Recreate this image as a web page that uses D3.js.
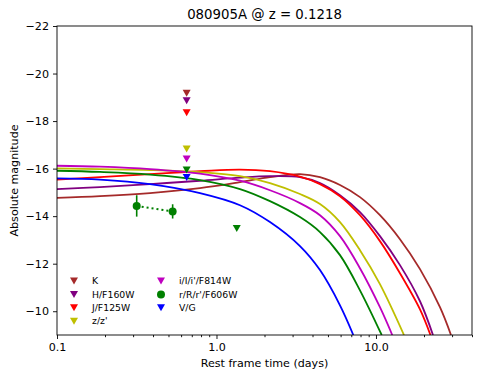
<!DOCTYPE html>
<html>
<head>
<meta charset="utf-8">
<script src="https://cdn.jsdelivr.net/npm/d3@7"></script>
<style>
  body { margin: 0; background: #fff; }
  text { font-family: "DejaVu Sans", sans-serif; }
</style>
</head>
<body>
<svg id="chart" width="485" height="379"></svg>
<script>
// bands, colours (legend order)
const bands = ["K", "H/F160W", "J/F125W", "z/z'", "i/I/i'/F814W", "r/R/r'/F606W", "V/G"];
const colors = ["#a52a2a", "#800080", "#ff0000", "#bfbf00", "#bf00bf", "#008000", "#0000ff"];

// model light curves: [rest-frame days, abs mag]
const modelK = [[0.1, -14.77], [0.186, -14.84], [0.383, -14.97], [0.788, -15.18], [1.404, -15.43], [2.165, -15.64], [3.338, -15.77], [4.456, -15.64], [5.948, -15.31], [7.937, -14.8], [10.59, -14.04], [14.14, -13.03], [18.88, -11.77], [25.19, -10.17], [29.53, -9.0]];
const modelH = [[0.1, -15.14], [0.186, -15.22], [0.383, -15.35], [0.788, -15.49], [1.404, -15.62], [2.165, -15.68], [3.338, -15.64], [4.456, -15.39], [5.948, -14.88], [7.937, -14.17], [10.59, -13.16], [14.14, -11.94], [18.88, -10.42], [22.77, -9.0]];
const modelJ = [[0.1, -15.54], [0.186, -15.64], [0.383, -15.77], [0.788, -15.89], [1.404, -15.96], [2.165, -15.89], [3.338, -15.66], [4.456, -15.35], [5.948, -14.84], [7.937, -14.04], [10.59, -12.95], [14.14, -11.6], [18.88, -10.08], [21.96, -9.0]];
const modelZ = [[0.1, -16.01], [0.186, -15.98], [0.383, -15.94], [0.788, -15.85], [1.404, -15.68], [2.165, -15.39], [3.338, -14.93], [4.456, -14.51], [5.948, -13.75], [7.937, -12.57], [10.59, -11.14], [14.98, -9.0]];
const modelI = [[0.1, -16.12], [0.186, -16.08], [0.383, -15.98], [0.788, -15.79], [1.404, -15.49], [2.165, -15.09], [3.338, -14.55], [4.456, -14.04], [5.948, -13.16], [7.937, -11.81], [10.59, -10.17], [12.65, -9.0]];
const modelR = [[0.1, -15.91], [0.186, -15.86], [0.383, -15.75], [0.788, -15.52], [1.404, -15.14], [2.165, -14.63], [3.338, -13.96], [4.456, -13.33], [5.948, -12.36], [7.937, -10.88], [10.86, -9.0]];
const modelV = [[0.1, -15.59], [0.186, -15.54], [0.383, -15.35], [0.788, -14.97], [1.404, -14.46], [2.165, -13.75], [3.338, -12.74], [4.456, -11.73], [5.948, -10.25], [7.21, -9.0]];
const models = [modelK, modelH, modelJ, modelZ, modelI, modelR, modelV];

// upper limits (one per band at the same epoch) plus one extra r-band limit
const limitTime = 0.65;
const limitMags = [-19.17, -18.86, -18.35, -16.82, -16.40, -15.94, -15.63];
const extraLimit = { time: 1.34, mag: -13.48, band: 5 };

// r-band detections
const detTimes = [0.316, 0.531];
const detMags = [-14.43, -14.2];
const detErrs = [0.45, 0.3];

const xTicks = [0.1, 1, 10];
const yTicks = [-22, -20, -18, -16, -14, -12, -10];

const svg = d3.select('#chart');
const margin = { left: 57, right: 472, top: 26, bottom: 335 };

const x = d3.scaleLog().domain([0.1, 40]).range([margin.left, margin.right]);
const y = d3.scaleLinear().domain([-22, -9]).range([margin.top, margin.bottom]);

svg.append('clipPath').attr('id', 'clip')
  .append('rect')
  .attr('x', margin.left).attr('y', margin.top)
  .attr('width', margin.right - margin.left)
  .attr('height', margin.bottom - margin.top);

const plot = svg.append('g').attr('clip-path', 'url(#clip)');

const line = d3.line()
  .x(d => x(d[0]))
  .y(d => y(d[1]))
  .curve(d3.curveCatmullRom.alpha(0.5));

plot.selectAll('path.model')
  .data(models)
  .join('path')
    .attr('class', 'model')
    .attr('fill', 'none')
    .attr('stroke', (d, i) => colors[i])
    .attr('stroke-width', 1.8)
    .attr('d', line);

// downward triangle
const tri = (w, h) => `M${-w / 2},${-h / 2}L${w / 2},${-h / 2}L0,${h / 2}Z`;

plot.selectAll('path.limit')
  .data(limitMags)
  .join('path')
    .attr('class', 'limit')
    .attr('fill', (d, i) => colors[i])
    .attr('transform', d => `translate(${x(limitTime)},${y(d)})`)
    .attr('d', tri(8, 7));

plot.append('path')
  .attr('fill', colors[extraLimit.band])
  .attr('transform', `translate(${x(extraLimit.time)},${y(extraLimit.mag)})`)
  .attr('d', tri(8, 7));

// detections with dotted connector and error bars
const dets = detTimes.map((t, i) => [t, detMags[i], detErrs[i]]);
plot.append('path')
  .datum(dets)
  .attr('fill', 'none')
  .attr('stroke', colors[5])
  .attr('stroke-width', 2)
  .attr('stroke-dasharray', '2,3')
  .attr('d', d3.line().x(d => x(d[0])).y(d => y(d[1])));

plot.selectAll('line.err')
  .data(dets)
  .join('line')
    .attr('class', 'err')
    .attr('stroke', colors[5])
    .attr('stroke-width', 1.6)
    .attr('x1', d => x(d[0])).attr('x2', d => x(d[0]))
    .attr('y1', d => y(d[1] - d[2])).attr('y2', d => y(d[1] + d[2]));

plot.selectAll('circle.det')
  .data(dets)
  .join('circle')
    .attr('class', 'det')
    .attr('fill', colors[5])
    .attr('cx', d => x(d[0]))
    .attr('cy', d => y(d[1]))
    .attr('r', 4);

// axes
svg.append('g')
  .attr('transform', `translate(0,${margin.bottom})`)
  .call(d3.axisBottom(x).tickValues(xTicks).tickFormat(d3.format('.1f')).tickSize(4).tickPadding(4));

const minorX = [];
[0.1, 1, 10].forEach(dec => { for (let k = 2; k <= 9; k++) if (dec * k <= 40) minorX.push(dec * k); });
svg.append('g')
  .attr('transform', `translate(0,${margin.bottom})`)
  .call(d3.axisBottom(x).tickValues(minorX).tickFormat('').tickSize(2.2));

svg.append('g')
  .attr('transform', `translate(${margin.left},0)`)
  .call(d3.axisLeft(y).tickValues(yTicks).tickSize(4).tickPadding(4));

svg.selectAll('.tick text')
  .attr('font-family', '"DejaVu Sans", sans-serif')
  .attr('font-size', 11.1)
  .attr('fill', '#000');
svg.selectAll('.tick line').attr('stroke', '#000').attr('stroke-width', 0.9);
svg.selectAll('.domain').remove();

svg.append('rect')
  .attr('x', margin.left).attr('y', margin.top)
  .attr('width', margin.right - margin.left)
  .attr('height', margin.bottom - margin.top)
  .attr('fill', 'none')
  .attr('stroke', '#000')
  .attr('stroke-width', 0.9);

// labels
svg.append('text')
  .attr('x', (margin.left + margin.right) / 2).attr('y', 19)
  .attr('text-anchor', 'middle')
  .attr('font-size', 13.3)
  .text('080905A @ z = 0.1218');

svg.append('text')
  .attr('x', (margin.left + margin.right) / 2).attr('y', 367)
  .attr('text-anchor', 'middle')
  .attr('font-size', 11.1)
  .text('Rest frame time (days)');

svg.append('text')
  .attr('transform', `translate(18,${(margin.top + margin.bottom) / 2}) rotate(-90)`)
  .attr('text-anchor', 'middle')
  .attr('font-size', 11.1)
  .text('Absolute magnitude');

// legend, two columns
const item = svg.append('g').selectAll('g')
  .data(bands)
  .join('g')
    .attr('transform', (d, i) => {
      const col = i < 4 ? 0 : 1;
      const row = i < 4 ? i : i - 4;
      return `translate(${74 + col * 87},${281 + row * 13.4})`;
    });

item.append('path')
  .attr('fill', (d, i) => colors[i])
  .attr('d', (d, i) => i === 5 ? d3.symbol(d3.symbolCircle, 50)() : tri(8, 7));

item.append('text')
  .attr('x', 18)
  .attr('dy', '0.35em')
  .attr('font-size', 9.3)
  .text(d => d);
</script>
</body>
</html>
